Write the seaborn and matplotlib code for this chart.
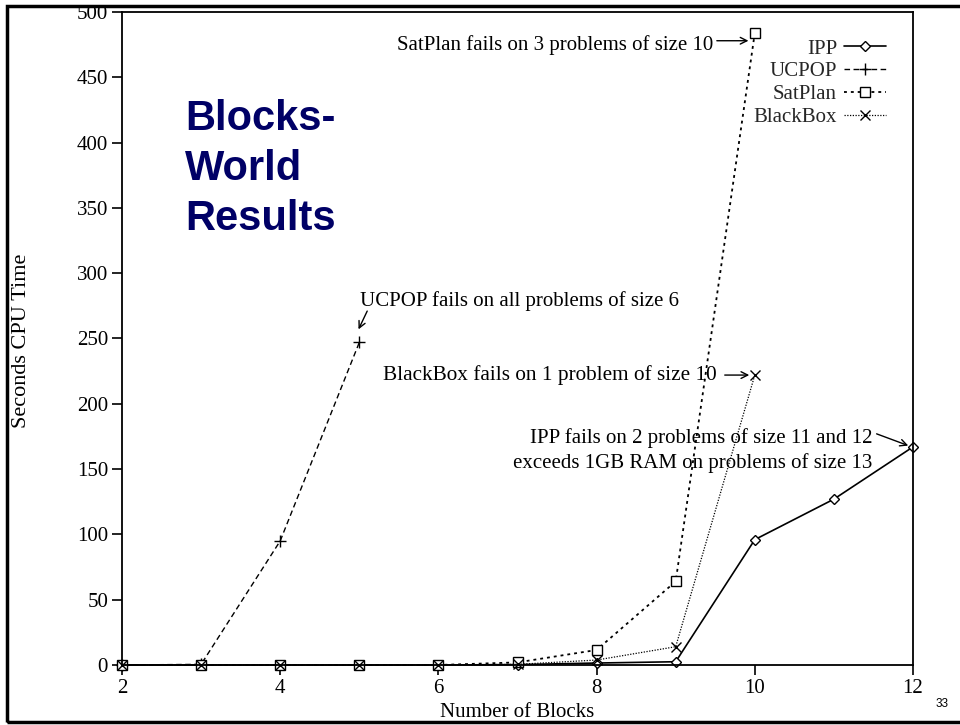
import matplotlib
matplotlib.use("Agg")
import matplotlib.pyplot as plt
import seaborn as sns
import pandas as pd
from matplotlib.patches import Rectangle

# ---- data ----
ipp_x = [2, 3, 4, 5, 6, 7, 8, 9, 10, 11, 12]
ipp_y = [0, 0, 0, 0, 0, 0.3, 1.5, 2.5, 96, 127, 167]
ucpop_x = [2, 3, 4, 5]
ucpop_y = [0, 0.5, 95, 247]
satplan_x = [2, 3, 4, 5, 6, 7, 8, 9, 10]
satplan_y = [0, 0, 0, 0, 0, 2, 11.5, 64, 484]
blackbox_x = [2, 3, 4, 5, 6, 7, 8, 9, 10]
blackbox_y = [0, 0, 0, 0, 0, 0.5, 3.8, 14, 222]

x_ticks = [2, 4, 6, 8, 10, 12]
y_ticks = [0, 50, 100, 150, 200, 250, 300, 350, 400, 450, 500]

sns.set_theme(style="ticks")
plt.rcParams["font.family"] = ["Liberation Serif", "DejaVu Serif"]

fig = plt.figure(figsize=(9.6, 7.25), dpi=100)
ax = fig.add_axes([122 / 960, 60 / 725, 791 / 960, 653 / 725])

FS = 15
common = dict(color="black", ax=ax, clip_on=False, errorbar=None)
sns.lineplot(x=ipp_x, y=ipp_y, label="IPP", linestyle="-", linewidth=1.2,
             marker="D", markersize=5, markerfacecolor="white",
             markeredgecolor="black", markeredgewidth=1.0, **common)
sns.lineplot(x=ucpop_x, y=ucpop_y, label="UCPOP", linestyle=(0, (4, 2.5)),
             linewidth=1.0, marker="+", markersize=8,
             markeredgecolor="black", markeredgewidth=1.0, **common)
sns.lineplot(x=satplan_x, y=satplan_y, label="SatPlan", linestyle=(0, (1.6, 2.2)),
             linewidth=1.3, marker="s", markersize=7, markerfacecolor="white",
             markeredgecolor="black", markeredgewidth=1.0, **common)
sns.lineplot(x=blackbox_x, y=blackbox_y, label="BlackBox", linestyle=(0, (1, 1.2)),
             linewidth=0.9, marker="x", markersize=7,
             markeredgecolor="black", markeredgewidth=1.0, **common)

ax.set_xlim(2, 12)
ax.set_ylim(0, 500)
ax.set_xticks(x_ticks)
ax.set_yticks(y_ticks)
ax.tick_params(axis="both", direction="out", length=7, width=1.2,
               labelsize=FS, colors="black", pad=3)
for s in ax.spines.values():
    s.set_visible(True)
    s.set_color("black")
    s.set_linewidth(1.3)
ax.set_facecolor("white")

ax.set_xlabel("Number of Blocks", fontsize=FS, color="black", labelpad=4)
ax.set_ylabel("Seconds CPU Time", fontsize=16, color="black")
ax.yaxis.set_label_coords((31 - 122) / 791, 0.497)

# legend: labels right-aligned, handles after
handles, labels = ax.get_legend_handles_labels()
leg = ax.legend(handles, labels, loc="upper right", frameon=False,
                markerfirst=False, fontsize=FS, handlelength=2.0,
                handletextpad=0.35, labelspacing=0.16, borderpad=0,
                borderaxespad=0, numpoints=1,
                bbox_to_anchor=(886 / 960, (725 - 39) / 725),
                bbox_transform=fig.transFigure)
for t in leg.get_texts():
    t.set_ha("right")

arrow = dict(arrowstyle="->", color="black", lw=1.0, shrinkA=0, shrinkB=0)

# annotations
ax.text(9.47, 475, "SatPlan fails on 3 problems of size 10", ha="right",
        va="center", fontsize=FS, color="black")
ax.annotate("", xy=(9.92, 478), xytext=(9.52, 478), arrowprops=arrow)

ax.text(5.01, 279, "UCPOP fails on all problems of size 6", ha="left",
        va="center", fontsize=FS, color="black")
ax.annotate("", xy=(4.99, 257), xytext=(5.1, 271), arrowprops=arrow)

ax.text(5.30, 222, "BlackBox fails on 1 problem of size 10", ha="left",
        va="center", fontsize=15.3, color="black")
ax.annotate("", xy=(9.93, 222), xytext=(9.62, 222), arrowprops=arrow)

ax.text(11.49, 164, "IPP fails on 2 problems of size 11 and 12\nexceeds 1GB RAM on problems of size 13",
        ha="right", va="center", multialignment="right", fontsize=FS,
        color="black", linespacing=1.35)
ax.annotate("", xy=(11.94, 168), xytext=(11.54, 177), arrowprops=arrow)

# slide title
fig.text(185 / 960, (725 - 99) / 725, "Blocks-\nWorld\nResults",
         ha="left", va="top", fontsize=30, fontweight="bold",
         color="#000066", family=["Liberation Sans", "DejaVu Sans"],
         linespacing=1.32)

# slide number and frame
fig.text(942 / 960, (725 - 704) / 725, "33", ha="center", va="center",
         fontsize=8.5, color="black", family=["Liberation Sans", "DejaVu Sans"])
fig.patches.append(Rectangle((7 / 960, 3 / 725), 1.1, (719 - 3) / 725,
                             transform=fig.transFigure, fill=False,
                             edgecolor="black", linewidth=2.5))

fig.savefig("out.png", dpi=100, facecolor="white")
